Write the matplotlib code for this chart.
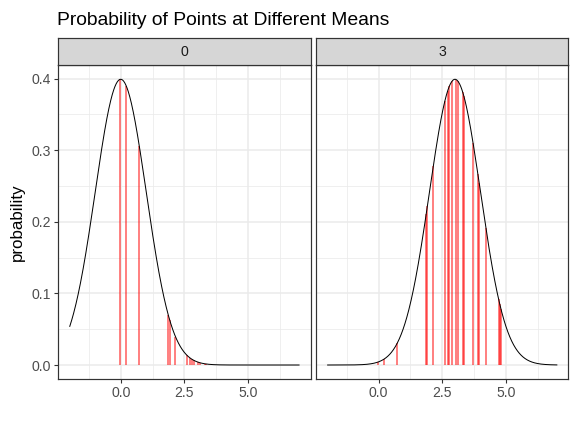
import numpy as np
import matplotlib
matplotlib.use("Agg")
import matplotlib.pyplot as plt
from matplotlib.ticker import MultipleLocator

plt.rcParams['font.family'] = ['Liberation Sans', 'DejaVu Sans']

# data
means = [0, 3]
facet_labels = ["0", "3"]
points = [-0.03, 0.22, 0.73, 1.87, 1.92, 2.15, 2.6, 2.71, 2.78, 2.88,
          3.05, 3.1, 3.3, 3.35, 3.71, 3.9, 3.95, 4.21, 4.71, 4.76, 4.81]
x_from, x_to = -2, 7
x_breaks = [0, 2.5, 5.0]
x_labels = ["0.0", "2.5", "5.0"]
y_breaks = [0.0, 0.1, 0.2, 0.3, 0.4]
y_labels = ["0.0", "0.1", "0.2", "0.3", "0.4"]


def dnorm(x, mu):
    x = np.asarray(x, dtype=float)
    return np.exp(-0.5 * (x - mu) ** 2) / np.sqrt(2 * np.pi)


W, H = 576, 432
fig = plt.figure(figsize=(8, 6), dpi=72)


def box(l, t, r, b):
    return [l / W, 1 - b / H, (r - l) / W, (b - t) / H]


panels = [(58.3, 310.5), (316.2, 568.3)]
top, bottom = 65, 379.3
strip_top = 38.3
border = "#333333"

xs = np.linspace(x_from, x_to, 600)
span = x_to - x_from
ymax = dnorm(0, 0)

for i, (l, r) in enumerate(panels):
    mu = means[i]
    ax = fig.add_axes(box(l, top, r, bottom))
    ax.set_xlim(x_from - 0.05 * span, x_to + 0.05 * span)
    ax.set_ylim(-0.05 * ymax, ymax * 1.05)

    ax.xaxis.set_major_locator(plt.FixedLocator(x_breaks))
    ax.xaxis.set_minor_locator(plt.FixedLocator([-1.25, 1.25, 3.75, 6.25]))
    ax.yaxis.set_major_locator(plt.FixedLocator(y_breaks))
    ax.yaxis.set_minor_locator(MultipleLocator(0.05))
    ax.set_xticklabels(x_labels)
    ax.set_yticklabels(y_labels)

    ax.grid(True, which="major", color="#EBEBEB", lw=1.5)
    ax.grid(True, which="minor", color="#EBEBEB", lw=0.8)
    ax.set_axisbelow(True)

    ax.tick_params(which="major", length=4, width=1.1, color=border,
                   labelcolor="#4D4D4D", labelsize=14, pad=3)
    ax.tick_params(which="minor", length=0)
    if i > 0:
        ax.tick_params(axis="y", left=False, labelleft=False)
    for s in ax.spines.values():
        s.set_color(border)
        s.set_linewidth(1.2)

    ax.vlines(points, 0, dnorm(points, mu), color="red", alpha=0.65, lw=1.5)
    ax.plot(xs, dnorm(xs, mu), color="black", lw=1.0)

    # facet strip
    st = fig.add_axes(box(l, strip_top, r, top))
    st.set_facecolor("#D6D6D6")
    st.set_xticks([])
    st.set_yticks([])
    for s in st.spines.values():
        s.set_color(border)
        s.set_linewidth(1.2)
    st.text(0.5, 0.5, facet_labels[i], ha="center", va="center",
            fontsize=14, color="#1A1A1A", transform=st.transAxes)

fig.text(57 / W, 1 - 25 / H, "Probability of Points at Different Means",
         fontsize=19.3, color="black", ha="left", va="baseline")
fig.text(17.5 / W, 1 - 222 / H, "probability", rotation=90,
         fontsize=17, color="black", ha="center", va="center")

fig.savefig("out.png", dpi=72)
